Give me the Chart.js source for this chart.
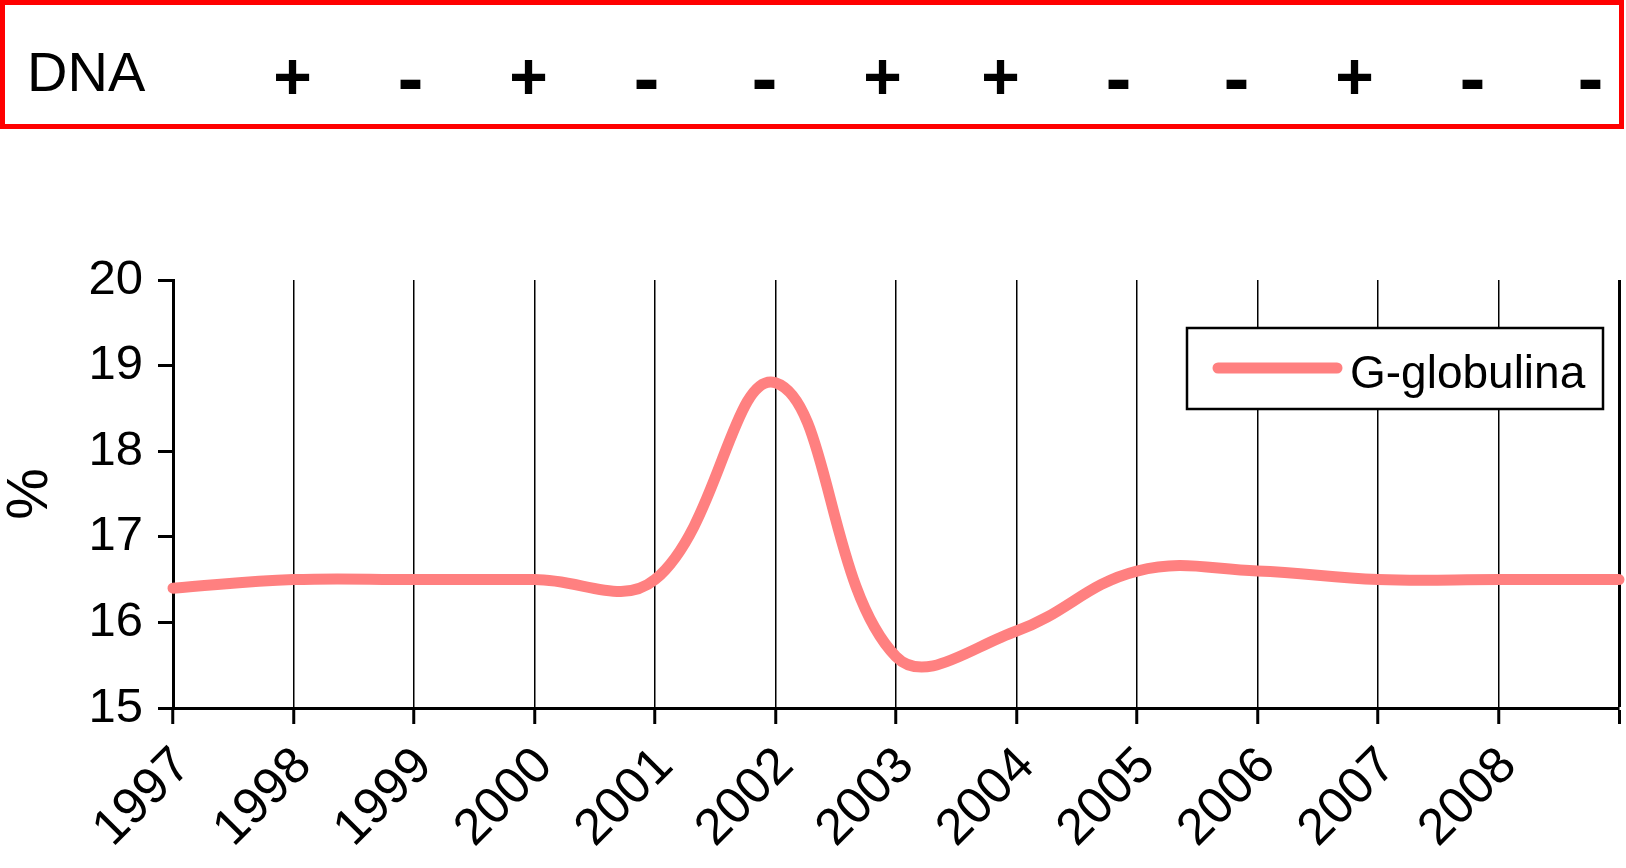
<!DOCTYPE html>
<html>
<head>
<meta charset="utf-8">
<title>G-globulina</title>
<script src="https://cdn.jsdelivr.net/npm/chart.js@4.4.1/dist/chart.umd.min.js"></script>
<style>
  html, body { margin: 0; padding: 0; background: #fff; }
  canvas { display: block; }
</style>
</head>
<body>
<canvas id="chart" width="1626" height="868"></canvas>
<script>
// Values
const years = ['1997', '1998', '1999', '2000', '2001', '2002', '2003', '2004', '2005', '2006', '2007', '2008', ''];
const gGlobulina = [16.4, 16.5, 16.5, 16.5, 16.5, 18.8, 15.6, 15.9, 16.6, 16.6, 16.5, 16.5, 16.5];
const dnaSigns = ['+', '-', '+', '-', '-', '+', '+', '-', '-', '+', '-', '-'];
const yMin = 15, yMax = 20, yStep = 1;

const FONT = '"Liberation Sans", Arial, sans-serif';
const LINE_COLOR = '#ff8080';

Chart.defaults.font.family = FONT;
Chart.defaults.color = '#000';

// white page background
const background = {
    id: 'background',
    beforeDraw(chart) {
        const ctx = chart.ctx;
        ctx.save();
        ctx.fillStyle = '#fff';
        ctx.fillRect(0, 0, chart.width, chart.height);
        ctx.restore();
    }
};

// red DNA row above the chart, signs follow the year columns
const dnaRow = {
    id: 'dnaRow',
    afterDraw(chart) {
        const ctx = chart.ctx;
        const xs = chart.scales.x;
        ctx.save();
        ctx.strokeStyle = '#ff0000';
        ctx.lineWidth = 5;
        ctx.strokeRect(2.5, 2.5, chart.width - 7, 124);

        ctx.fillStyle = '#000';
        ctx.textBaseline = 'alphabetic';
        ctx.textAlign = 'left';
        ctx.font = '56px ' + FONT;
        ctx.fillText('DNA', 27, 91);

        ctx.textAlign = 'center';
        dnaSigns.forEach((s, i) => {
            // the table row drifts a little left of the year columns
            const px = xs.getPixelForValue(i + 1) - 1 - 2.5 * i;
            if (s === '+') {
                ctx.font = 'bold 66px ' + FONT;
                ctx.fillText(s, px, 99);
            } else {
                ctx.font = 'bold 78px ' + FONT;
                ctx.fillText(s, px, 105);
            }
        });
        ctx.restore();
    }
};

// boxed legend inside the plot, top right
const legendBox = {
    id: 'legendBox',
    afterDraw(chart) {
        const { ctx, chartArea } = chart;
        const ds = chart.data.datasets[0];
        const w = 416, h = 81;
        const left = chartArea.right - 432;
        const top = chartArea.top + 48;
        ctx.save();
        ctx.fillStyle = '#fff';
        ctx.fillRect(left, top, w, h);
        ctx.strokeStyle = '#000';
        ctx.lineWidth = 2.5;
        ctx.strokeRect(left, top, w, h);

        const midY = top + 40;
        ctx.strokeStyle = ds.borderColor;
        ctx.lineWidth = 11;
        ctx.lineCap = 'round';
        ctx.beginPath();
        ctx.moveTo(left + 31, midY);
        ctx.lineTo(left + 150, midY);
        ctx.stroke();

        ctx.fillStyle = '#000';
        ctx.font = '46px ' + FONT;
        ctx.textAlign = 'left';
        ctx.textBaseline = 'alphabetic';
        ctx.fillText(ds.label, left + 163, top + 60);
        ctx.restore();
    }
};

const ctx = document.getElementById('chart').getContext('2d');

new Chart(ctx, {
    type: 'line',
    data: {
        labels: years,
        datasets: [{
            label: 'G-globulina',
            data: gGlobulina,
            borderColor: LINE_COLOR,
            backgroundColor: LINE_COLOR,
            borderWidth: 11,
            borderCapStyle: 'round',
            borderJoinStyle: 'round',
            tension: 0.4,
            pointRadius: 0,
            pointHoverRadius: 0,
            fill: false,
            clip: false
        }]
    },
    options: {
        responsive: false,
        animation: false,
        events: [],
        layout: {
            padding: { top: 280, right: 7, bottom: 0, left: 0 }
        },
        plugins: {
            legend: { display: false },
            tooltip: { enabled: false }
        },
        scales: {
            x: {
                grid: {
                    color: '#000',
                    lineWidth: c => (c.index === years.length - 1 ? 3 : 1.5),
                    tickLength: 16,
                    tickWidth: 3,
                    tickColor: '#000'
                },
                border: { color: '#000', width: 3 },
                ticks: {
                    color: '#000',
                    font: { size: 51 },
                    minRotation: 45,
                    maxRotation: 45,
                    autoSkip: false,
                    padding: 12,
                    labelOffset: 10
                },
                afterFit: s => {
                    s.height = 160;
                    s.paddingLeft = 0;
                    s.paddingRight = 0;
                }
            },
            y: {
                min: yMin,
                max: yMax,
                ticks: {
                    stepSize: yStep,
                    color: '#000',
                    font: { size: 49 },
                    padding: 15
                },
                grid: {
                    drawOnChartArea: false,
                    color: '#000',
                    lineWidth: 3,
                    tickLength: 15
                },
                border: { color: '#000', width: 3 },
                title: {
                    display: true,
                    text: '%',
                    color: '#000',
                    font: { size: 58, lineHeight: 1 },
                    padding: { top: 2, bottom: 0 }
                },
                afterFit: s => { s.width = 173; }
            }
        }
    },
    plugins: [background, dnaRow, legendBox]
});
</script>
</body>
</html>
